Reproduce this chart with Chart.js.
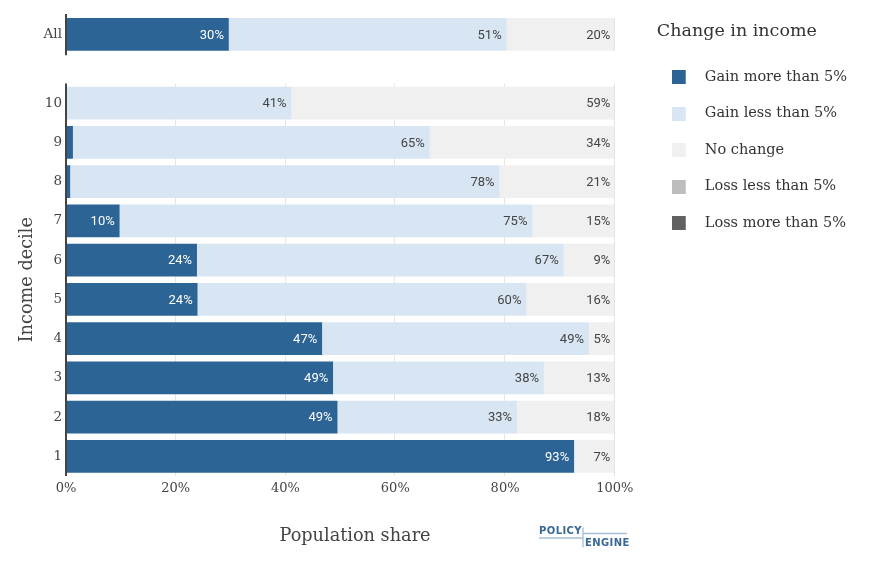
<!DOCTYPE html>
<html>
<head>
<meta charset="utf-8">
<script src="https://cdn.jsdelivr.net/npm/chart.js@4.4.1/dist/chart.umd.min.js"></script>
<style>
  html, body { margin: 0; padding: 0; background: #fff; }
</style>
</head>
<body>
<canvas id="incomeChart" width="878" height="576"></canvas>
<script>
// rows, top to bottom
const categories = ["All", "10", "9", "8", "7", "6", "5", "4", "3", "2", "1"];
const seriesNames = ["Gain more than 5%", "Gain less than 5%", "No change", "Loss less than 5%", "Loss more than 5%"];
const gainMore = [29.6, 0, 1.2, 0.7, 9.7, 23.8, 23.9, 46.6, 48.6, 49.4, 92.5];
const gainLess = [50.6, 41.0, 65.0, 78.2, 75.2, 66.8, 59.9, 48.6, 38.4, 32.7, 0.2];
const noChange = [19.8, 59.0, 33.8, 21.1, 15.1, 9.4, 16.2, 4.8, 13.0, 17.9, 7.3];
const lossLess = [0, 0, 0, 0, 0, 0, 0, 0, 0, 0, 0];
const lossMore = [0, 0, 0, 0, 0, 0, 0, 0, 0, 0, 0];
const xTicks = [0, 20, 40, 60, 80, 100];

const colors = ["#2c6496", "#d8e6f3", "#f0f0f0", "#bdbdbd", "#616161"];
const ALL_GAP = 1.75; // "All" sits in its own panel above decile 10

function rowPos(cat) {
  return cat === "All" ? 10 + ALL_GAP : Number(cat);
}
function labelAt(v) {
  const c = categories.find(cat => Math.abs(rowPos(cat) - v) < 0.01);
  return c === undefined ? "" : c;
}

// legend swatch: wider canvas so the square sits left of the item origin
function swatch(color) {
  const c = document.createElement("canvas");
  c.width = 33;
  c.height = 14;
  const g = c.getContext("2d");
  g.fillStyle = color;
  g.fillRect(0, 0, 14, 14);
  return c;
}

// no auto padding, sizes are fixed below
function noPad(s) {
  s.paddingTop = 0;
  s.paddingBottom = 0;
  s.paddingLeft = 0;
  s.paddingRight = 0;
}

const seriesValues = [gainMore, gainLess, noChange, lossLess, lossMore];

Chart.defaults.font.family = "'DejaVu Serif', serif";
Chart.defaults.color = "#444";

// gridlines + axis lines + in-bar labels
const panelPlugin = {
  id: "panels",
  beforeDatasetsDraw(chart) {
    const { ctx, scales: { x, y } } = chart;
    const top = y.getPixelForValue(10.5);
    const bottom = y.getPixelForValue(0.5);
    ctx.save();
    ctx.strokeStyle = "#e6e6e6";
    ctx.lineWidth = 1;
    xTicks.forEach(v => {
      if (v === 0) return;
      const px = Math.round(x.getPixelForValue(v)) - 0.5;
      ctx.beginPath();
      ctx.moveTo(px, top);
      ctx.lineTo(px, bottom);
      ctx.stroke();
    });
    ctx.restore();
  },
  afterDatasetsDraw(chart) {
    const { ctx, chartArea, scales: { y } } = chart;
    ctx.save();
    // bar labels
    ctx.font = "13px Roboto";
    ctx.textAlign = "right";
    ctx.textBaseline = "middle";
    chart.data.datasets.forEach((ds, di) => {
      const meta = chart.getDatasetMeta(di);
      meta.data.forEach((bar, i) => {
        const v = ds.data[i].x;
        if (!v) return;
        const txt = Math.round(v) + "%";
        const w = Math.abs(bar.x - bar.base);
        if (w < ctx.measureText(txt).width + 8) return;
        ctx.fillStyle = di === 0 ? "#ffffff" : "#444";
        ctx.fillText(txt, bar.x - 4.5, bar.y + 1);
      });
    });
    // y axis lines, one per panel
    ctx.strokeStyle = "#444";
    ctx.lineWidth = 2;
    const lx = chartArea.left;
    [[10.5, 0.5], [y.max, 10 + ALL_GAP - 0.53]].forEach(([a, b]) => {
      ctx.beginPath();
      ctx.moveTo(lx, y.getPixelForValue(a));
      ctx.lineTo(lx, y.getPixelForValue(b));
      ctx.stroke();
    });
    ctx.restore();
  },
  afterDraw(chart) {
    const { ctx, scales: { y } } = chart;
    ctx.save();
    ctx.fillStyle = "#444";
    ctx.font = "17.7px 'DejaVu Serif'";
    ctx.textAlign = "center";
    ctx.textBaseline = "middle";
    ctx.fillText("Population share", 355, 536);
    ctx.translate(27, y.getPixelForValue(5.5));
    ctx.rotate(-Math.PI / 2);
    ctx.fillText("Income decile", 0, 0);
    ctx.restore();

    // PolicyEngine logo
    ctx.save();
    ctx.strokeStyle = "#a9bed5";
    ctx.lineWidth = 1.3;
    ctx.beginPath();
    ctx.moveTo(539, 538); ctx.lineTo(583, 538);
    ctx.moveTo(583, 527.5); ctx.lineTo(583, 547.5);
    ctx.moveTo(583, 533.5); ctx.lineTo(627, 533.5);
    ctx.stroke();
    ctx.fillStyle = "#3a6896";
    ctx.font = "bold 10px 'DejaVu Sans'";
    ctx.textAlign = "left";
    ctx.textBaseline = "middle";
    ctx.letterSpacing = "0.4px";
    ctx.fillText("POLICY", 539, 531.5);
    ctx.fillText("ENGINE", 585, 543.5);
    ctx.restore();
  }
};

const datasets = seriesNames.map((name, si) => ({
  label: name,
  data: categories.map((c, i) => ({ x: seriesValues[si][i], y: rowPos(c) })),
  backgroundColor: colors[si],
  borderWidth: 0,
  barThickness: 32,
  xAxisID: "x",
  yAxisID: "y",
}));

new Chart(document.getElementById("incomeChart"), {
  type: "bar",
  data: { datasets: datasets },
  plugins: [panelPlugin],
  options: {
    indexAxis: "y",
    responsive: false,
    animation: false,
    layout: { padding: { top: 14, right: 21, bottom: 0, left: 0 } },
    scales: {
      x: {
        type: "linear",
        position: "bottom",
        min: 0,
        max: 100,
        stacked: true,
        grid: { display: false, drawTicks: false, tickLength: 0 },
        border: { display: false },
        afterBuildTicks: s => { s.ticks = xTicks.map(v => ({ value: v })); },
        ticks: { callback: v => v + "%", padding: 5, font: { size: 13 }, maxRotation: 0 },
        afterFit: s => { s.height = 100; noPad(s); },
      },
      y: {
        type: "linear",
        position: "left",
        min: 0.5,
        max: 12.27,
        offset: false,
        stacked: true,
        grid: { display: false, offset: false, drawTicks: false, tickLength: 0 },
        border: { display: false },
        afterBuildTicks: s => { s.ticks = categories.map(c => ({ value: rowPos(c) })); },
        ticks: { callback: v => labelAt(v), padding: 4, font: { size: 13.5 }, autoSkip: false },
        afterFit: s => { s.width = 66; noPad(s); },
      },
      // spacer between plot and legend
      gap: {
        type: "linear",
        position: "right",
        display: true,
        grid: { display: false, drawTicks: false, tickLength: 0 },
        border: { display: false },
        ticks: { display: false },
        afterFit: s => { s.width = 42; noPad(s); },
      },
    },
    plugins: {
      tooltip: { enabled: false },
      legend: {
        position: "right",
        align: "start",
        maxWidth: 400,
        title: {
          display: true,
          text: "Change in income",
          position: "start",
          color: "#333",
          font: { size: 17.5 },
          padding: { top: 8.25, bottom: 4.5 },
        },
        labels: {
          usePointStyle: true,
          pointStyleWidth: 18.75,
          boxHeight: 14,
          padding: 22,
          color: "#444",
          font: { size: 14.5 },
          generateLabels: chart => chart.data.datasets.map((ds, i) => ({
            text: ds.label,
            fillStyle: ds.backgroundColor,
            strokeStyle: ds.backgroundColor,
            lineWidth: 0,
            pointStyle: swatch(ds.backgroundColor),
            datasetIndex: i,
            hidden: false,
          })),
        },
      },
    },
  },
});
</script>
</body>
</html>
